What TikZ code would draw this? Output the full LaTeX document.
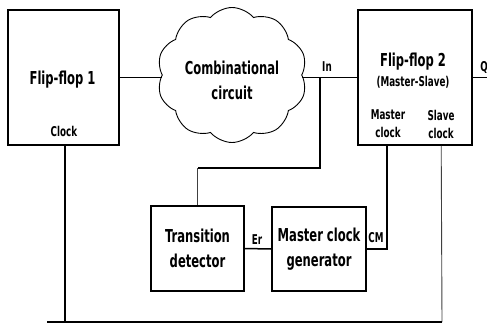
\documentclass[tikz,border=0pt]{standalone}
\usepackage{fontspec}
\setmainfont{DejaVu Sans}
\newfontfamily\narrowfont[FakeStretch=0.65]{DejaVu Sans Bold}
\usetikzlibrary{shapes.symbols,calc}
\begin{document}
\begin{tikzpicture}[x=1pt,y=-1pt,
  box/.style={draw,line width=1.6pt,inner sep=0pt},
  wire/.style={line width=1.5pt},
  thinwire/.style={line width=0.9pt,black!75},
  big/.style={font=\narrowfont\fontsize{17.8}{25}\selectfont,align=center,inner sep=0pt},
  small/.style={font=\narrowfont\fontsize{13.5}{18}\selectfont,align=center,inner sep=0pt}]
\useasboundingbox (0,0) rectangle (487,327);
\fill[white] (0,0) rectangle (487,327);
% blocks
\node[box,minimum width=111,minimum height=135] (ff1) at (63.5,77.5) {};
\node[box,minimum width=114,minimum height=135] (ff2) at (415,77.5) {};
\node[cloud,draw,line width=0.9pt,cloud puffs=10,cloud puff arc=100,cloud ignores aspect,
      minimum width=150,minimum height=135,inner sep=0pt] (cloud) at (232,75) {};
\node[box,minimum width=93,minimum height=85,big] (td) at (197.5,248.5) {Transition\\detector};
\node[box,minimum width=94,minimum height=84,big] (mcg) at (319,249) {Master clock\\generator};
% labels
\node[big] (ff1l) at (62.5,80) {Flip-flop 1};
\node[small] (clk1) at (64,131) {Clock};
\node[big] (ccl) at (232,80.5) {Combinational\\circuit};
\node[big] (ff2l) at (413,62) {Flip-flop 2};
\node[small] (msl) at (413,82) {(Master-Slave)};
\node[small] (mcl) at (388,124) {Master\\clock};
\node[small] (scl) at (441,124) {Slave\\clock};
\node[small] (inl) at (327,67) {In};
\node[small] (ql) at (484,67) {Q};
\node[small] (erl) at (257,240) {Er};
\node[small] (cml) at (376,238) {CM};
% coordinates
\coordinate (j) at (320,77.5);
\coordinate (tdbend) at (320,168);
\coordinate (tdcorner) at (197.5,168);
\coordinate (mclk) at ($(ff2.south west)+(30,0)$);
\coordinate (sclk) at ($(ff2.south west)+(84,0)$);
\coordinate (c1) at ($(ff1.south)+(1.5,0)$);
\coordinate (busL) at (47,322);
\coordinate (busR) at (442,322);
\coordinate (qend) at (487,77.5);
% connectors
\draw[wire] (ff1.east) -- (ff1.east -| cloud.west);
\draw[wire] (ff2.west -| cloud.east) -- (ff2.west);
\draw[wire] (ff2.east) -- (qend);
\draw[wire] (j) -- (tdbend) -- (tdcorner);
\draw[thinwire] (tdcorner) -- (td.north);
\draw[wire] (td.east) -- (mcg.west);
\draw[wire] (mcg.east) -| (mclk);
\draw[thinwire] (sclk) -- (busR);
\draw[wire] (c1) -- (c1 |- busL);
\draw[wire] (busL) -- (busR);
\end{tikzpicture}
\end{document}
